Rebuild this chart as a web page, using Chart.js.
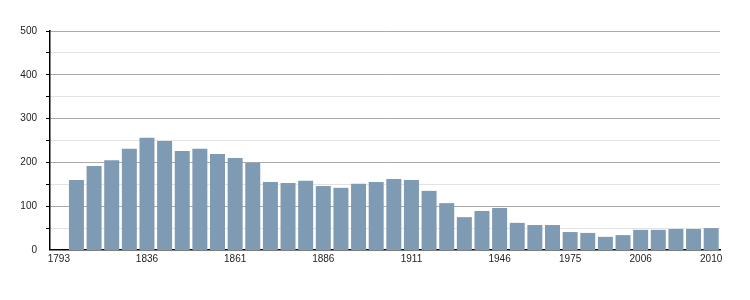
<!DOCTYPE html>
<html>
<head>
<meta charset="utf-8">
<script src="https://cdn.jsdelivr.net/npm/chart.js@4/dist/chart.umd.min.js"></script>
<style>
  html, body { margin: 0; padding: 0; background: #fff; }
  #wrap { width: 750px; height: 300px; }
</style>
</head>
<body>
<div id="wrap"><canvas id="popChart" width="750" height="300"></canvas></div>
<script>
// census years (1793 has no value)
const years = ['1793', '1800', '1806', '1821', '1831', '1836', '1841', '1846', '1851', '1856',
    '1861', '1866', '1872', '1876', '1881', '1886', '1891', '1896', '1901', '1906',
    '1911', '1921', '1926', '1931', '1936', '1946', '1954', '1962', '1968', '1975',
    '1982', '1990', '1999', '2006', '2007', '2008', '2009', '2010'];
const population = [null, 160, 192, 205, 231, 256, 249, 226, 231, 219,
    210, 199, 155, 153, 158, 146, 142, 151, 155, 162,
    160, 135, 107, 75, 89, 96, 62, 57, 57, 41,
    39, 30, 34, 46, 46, 48, 48, 50];
// years that get a label under the axis
const shownYears = ['1793', '1836', '1861', '1886', '1911', '1946', '1975', '2006', '2010'];
const yTicks = [0, 100, 200, 300, 400, 500];

const ctx = document.getElementById('popChart').getContext('2d');
new Chart(ctx, {
    type: 'bar',
    data: {
        labels: years,
        datasets: [{ data: population, backgroundColor: '#7f9ab3', borderWidth: 0,
            barPercentage: 0.85, categoryPercentage: 1.0 }]
    },
    options: {
        responsive: false,
        animation: false,
        events: [],
        layout: { padding: { left: 0, right: 30, top: 31, bottom: 0 } },
        plugins: { legend: { display: false }, tooltip: { enabled: false } },
        scales: {
            x: {
                grid: { display: false, drawTicks: false },
                border: { color: '#000', width: 1.5 },
                afterFit: s => { s.height = 50; },
                ticks: {
                    autoSkip: false, maxRotation: 0, padding: 3,
                    color: '#222', font: { family: 'Liberation Sans', size: 10 },
                    callback: function (v, i) {
                        const lab = years[i];
                        return shownYears.includes(lab) ? lab : null;
                    }
                }
            },
            y: {
                min: 0, max: 500,
                afterFit: s => { s.width = 50; },
                border: { color: '#000', width: 1.5 },
                grid: {
                    color: c => (c.tick.value % 100 === 0 ? '#aaaaaa' : '#e2e2e2'),
                    lineWidth: c => (c.tick.value === 0 ? 0 : 1),
                    tickColor: '#000', tickLength: 4
                },
                ticks: {
                    stepSize: 50, padding: 9,
                    color: '#222', font: { family: 'Liberation Sans', size: 10 },
                    callback: v => (yTicks.includes(v) ? String(v) : '')
                }
            }
        }
    }
});
</script>
</body>
</html>
